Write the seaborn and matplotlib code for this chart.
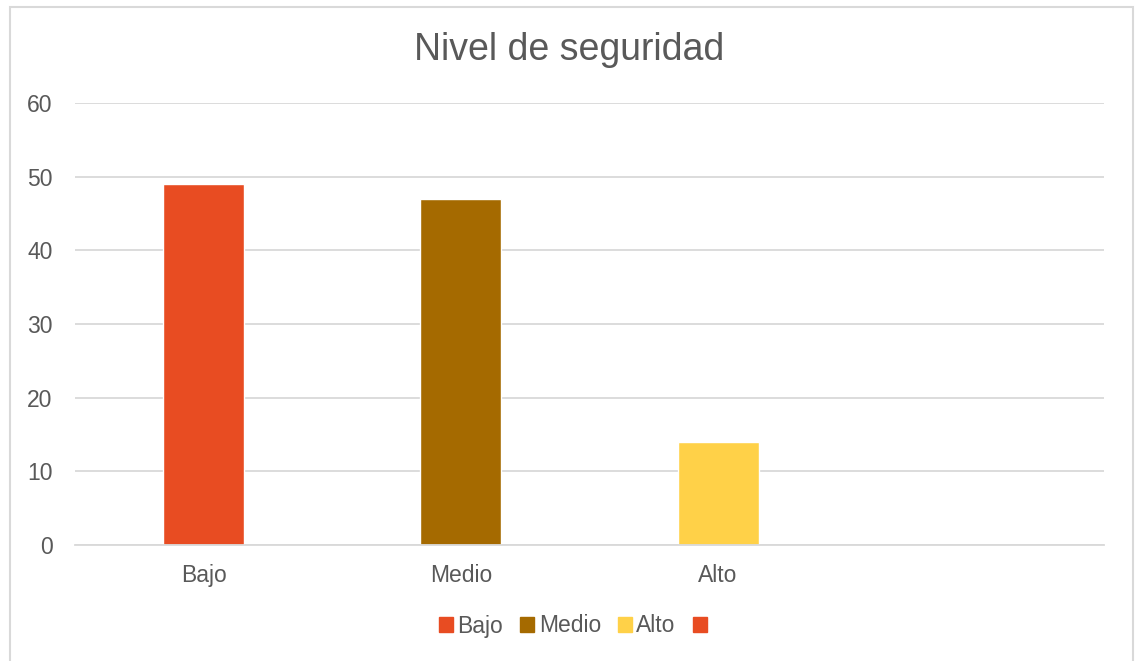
import matplotlib
matplotlib.use("Agg")
import matplotlib.pyplot as plt
import matplotlib.patches as mpatches
import numpy as np
import pandas as pd
import seaborn as sns

# data
categories = ["Bajo", "Medio", "Alto", " "]
values = [49, 47, 14, np.nan]
bar_colors = ["#E84C22", "#A56A00", "#FFD148", "#E84C22"]
legend_labels = ["Bajo", "Medio", "Alto", ""]
y_ticks = [0, 10, 20, 30, 40, 50, 60]

sns.set_theme(style="white")
plt.rcParams["font.family"] = ["Liberation Sans", "DejaVu Sans"]

df = pd.DataFrame({"nivel": categories, "valor": values})

fig = plt.figure(figsize=(11.39, 6.61), dpi=100)
ax = fig.add_axes([0.0658, 0.1755, 0.9035, 0.6687])

sns.barplot(
    data=df, x="nivel", y="valor", hue="nivel", order=categories,
    palette=dict(zip(categories, bar_colors)), width=0.315,
    legend=False, saturation=1, ax=ax,
)

ax.set_ylim(0, 60)
ax.set_xlim(-0.5, len(categories) - 0.5)
ax.set_yticks(y_ticks)
ax.grid(axis="y", color="#D9D9D9", linewidth=1.3)
ax.set_axisbelow(True)
for s in ["top", "right", "left"]:
    ax.spines[s].set_visible(False)
ax.spines["bottom"].set_color("#D9D9D9")
ax.spines["bottom"].set_linewidth(1.3)
ax.tick_params(axis="both", length=0, labelsize=16.5, colors="#595959")
ax.tick_params(axis="y", pad=16)
ax.tick_params(axis="x", pad=14)
ax.set_xlabel("")
ax.set_ylabel("")

fig.text(0.5, 1 - 50 / 661, "Nivel de seguridad", ha="center", va="center",
         fontsize=27, color="#595959")

handles = [mpatches.Patch(color=c) for c in bar_colors]
fig.legend(
    handles, legend_labels, loc="center", bbox_to_anchor=(0.505, 1 - 626 / 661),
    ncol=4, frameon=False, fontsize=16.5, handlelength=0.6, handleheight=0.6,
    handletextpad=0.2, columnspacing=0.75, labelcolor="#595959",
)

# outer chart border
border = mpatches.Rectangle(
    (10 / 1139, -0.05), (1133 - 10) / 1139, 1.05 - 7 / 661,
    transform=fig.transFigure, fill=False, edgecolor="#D9D9D9",
    linewidth=1.5, clip_on=False,
)
fig.patches.append(border)

fig.savefig("out.png", dpi=100)
